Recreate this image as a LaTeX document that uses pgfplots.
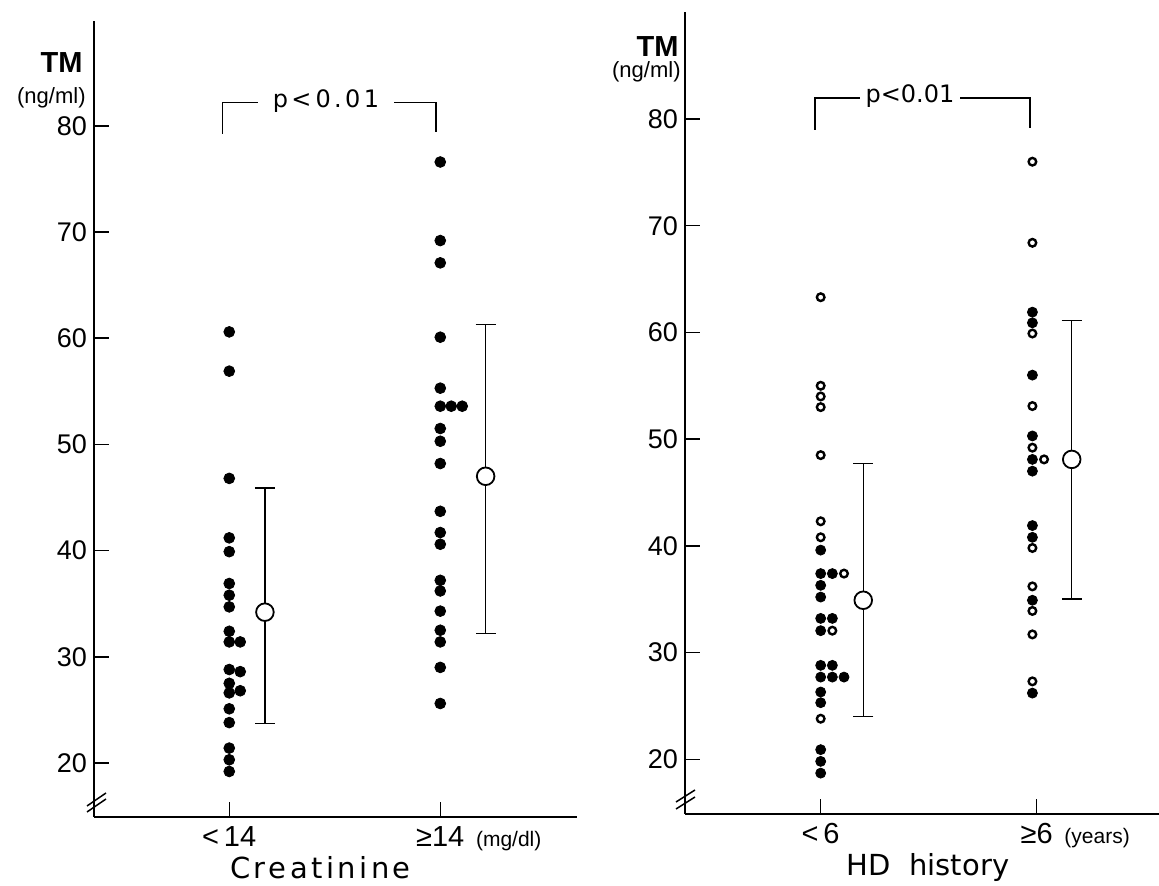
\documentclass[border=0pt]{standalone}
\usepackage{fontspec}
\setmainfont{Liberation Sans}
\newfontfamily\wide{DejaVu Sans}
\newfontfamily\widesp[LetterSpace=12]{DejaVu Sans}
\newfontfamily\pfont[LetterSpace=14]{DejaVu Sans}
\usepackage{pgfplots}
\pgfplotsset{compat=1.18}

\pgfplotsset{
  panel/.style={
    scale only axis, anchor=south west, clip=false,
    axis lines=left,
    axis line style={-, line width=1.4pt},
    tick align=inside,
    major tick length=7.5pt,
    tick style={line width=0.75pt, black},
    xtick={0,1}, ytick={20,30,...,80},
    /pgf/number format/assume math mode=true,
    yticklabel style={font=\fontsize{13.5}{15}\selectfont},
    xticklabel style={font=\fontsize{14.5}{16}\selectfont, yshift=-1pt},
    xlabel style={yshift=4pt},
  },
  full/.style={only marks, mark=*, mark size=#1, black},
  full/.default=2.7pt,
  open/.style={only marks, mark=o, mark size=1.9pt, mark options={line width=1.2pt}, black},
  sd/.style={black, mark=none,
    error bars/.cd, y dir=both, y explicit,
    error bar style={line width=0.75pt, black},
    error mark options={rotate=90, mark size=5pt, line width=0.75pt}},
  mean/.style={only marks, mark=*, mark size=4.4pt,
    mark options={fill=white, draw=black, line width=0.9pt}},
}

\begin{document}
\begin{tikzpicture}[x=0.5pt, y=0.5pt]
\path[use as bounding box] (0,0) rectangle (1159,886);

% ---- left panel: creatinine
\begin{axis}[panel, at={(47pt,34.5pt)}, width=241.5pt, height=398.1pt,
  xmin=-0.641, xmax=1.648, ymin=14.91, ymax=89.9,
  xticklabels={{<\,14},{≥14\rlap{\fontsize{10.5}{12}\selectfont\ \ (mg/dl)}}},
  xlabel={Creatinine},
  xlabel style={font=\widesp\fontsize{14.5}{16}\selectfont, xshift=-7.5pt}]
\addplot[full] coordinates {
  (0,60.6)(0,56.9)(0,46.8)(0,41.2)(0,39.9)(0,36.9)(0,35.8)(0,34.7)
  (0,32.4)(0,31.4)(0.052,31.4)(0,28.8)(0.052,28.6)(0,27.5)(0,26.6)
  (0.052,26.8)(0,25.1)(0,23.8)(0,21.4)(0,20.3)(0,19.2)};
\addplot[full] coordinates {
  (1,76.6)(1,69.2)(1,67.1)(1,60.1)(1,55.3)(1,53.6)(1.052,53.6)(1.104,53.6)
  (1,51.5)(1,50.3)(1,48.2)(1,43.7)(1,41.7)(1,40.6)(1,37.2)(1,36.2)
  (1,34.3)(1,32.5)(1,31.4)(1,29.0)(1,25.6)};
\addplot[sd] coordinates {(0.169,34.2) += (0,11.7) -= (0,10.5)};
\addplot[sd] coordinates {(1.215,47.0) += (0,14.3) -= (0,14.8)};
\addplot[mean] coordinates {(0.169,34.2)};
\addplot[mean] coordinates {(1.215,47.0)};
\end{axis}

% ---- right panel: HD history
\begin{axis}[panel, at={(342.5pt,36pt)}, width=237pt, height=401pt,
  xmin=-0.628, xmax=1.566, ymin=14.87, ymax=90.03,
  xticklabels={{<\,6},{≥6\rlap{\fontsize{10.5}{12}\selectfont\ \ (years)}}},
  xlabel={HD\ \ history},
  xlabel style={font=\wide\fontsize{14.5}{16}\selectfont, xshift=3pt}]
\addplot[full=2.5pt] coordinates {
  (0,39.6)(0,37.4)(0.054,37.4)(0,36.3)(0,35.2)(0,33.2)(0.054,33.2)
  (0,32.05)(0,28.8)(0.054,28.8)(0,27.7)(0.054,27.7)(0.108,27.7)
  (0,26.3)(0,25.3)(0,20.9)(0,19.8)(0,18.7)};
\addplot[open] coordinates {
  (0,63.3)(0,55.0)(0,54.0)(0,53.0)(0,48.5)(0,42.3)(0,40.8)
  (0.108,37.4)(0.054,32.05)(0,23.8)};
\addplot[full=2.5pt] coordinates {
  (0.98,61.9)(0.98,60.9)(0.98,56.0)(0.98,50.3)(0.98,48.1)(0.98,47.0)
  (0.98,41.9)(0.98,40.8)(0.98,34.9)(0.98,26.2)};
\addplot[open] coordinates {
  (0.98,76.0)(0.98,68.4)(0.98,59.9)(0.98,53.1)(0.98,49.2)(1.034,48.1)
  (0.98,39.8)(0.98,36.2)(0.98,33.9)(0.98,31.7)(0.98,27.3)};
\addplot[sd] coordinates {(0.197,34.9) += (0,12.8) -= (0,10.9)};
\addplot[sd] coordinates {(1.162,48.1) += (0,13.0) -= (0,13.1)};
\addplot[mean] coordinates {(0.197,34.9)};
\addplot[mean] coordinates {(1.162,48.1)};
\end{axis}

% y axis titles
\node[anchor=east, inner sep=0pt, font=\bfseries\fontsize{14.5}{16}\selectfont] at (83,823) {TM};
\node[anchor=east, inner sep=0pt, font=\fontsize{11}{12}\selectfont] at (86,788) {(ng/ml)};
\node[anchor=east, inner sep=0pt, font=\bfseries\fontsize{14.5}{16}\selectfont] at (679,839) {TM};
\node[anchor=east, inner sep=0pt, font=\fontsize{11}{12}\selectfont] at (681,814) {(ng/ml)};

% significance brackets
\draw[line width=0.75pt] (222.5,752) -- (222.5,783.5) -- (258,783.5);
\draw[line width=0.75pt] (394,783.5) -- (436,783.5) -- (436,754);
\node[font=\pfont\fontsize{12}{13}\selectfont] at (326,785) {p<\,0.01};
\draw[line width=0.75pt] (815,756) -- (815,788) -- (860,788);
\draw[line width=0.75pt] (960,788) -- (1030,788) -- (1030,758);
\node[font=\wide\fontsize{12}{13}\selectfont] at (910,789.5) {p<0.01};

% axis breaks
\draw[line width=0.75pt] (87,80) -- (106,93);
\draw[line width=0.75pt] (87,74) -- (106,87);
\draw[line width=0.75pt] (676,84) -- (695,96);
\draw[line width=0.75pt] (676,77) -- (695,89);
\end{tikzpicture}
\end{document}
